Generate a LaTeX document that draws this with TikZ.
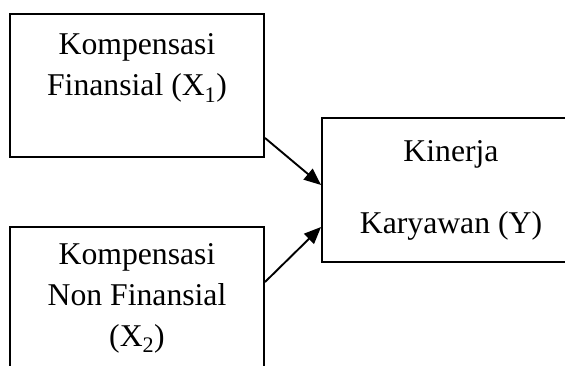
\documentclass[tikz,border=0pt]{standalone}
\usepackage{fontspec}
\setmainfont{Liberation Serif}
\usepackage{xcolor}
\definecolor{diaLine}{HTML}{000000}
\usepackage{tikz}
\usetikzlibrary{arrows.meta,positioning,calc}
\tikzset{
    varbox/.style={
        draw=diaLine,
        fill=white,
        rectangle,
        align=center,
        line width=1.9pt,
        inner sep=0pt,
        font=\fontsize{31.7}{41}\selectfont
    },
    arrow/.style={
        -{Triangle[length=17pt,width=14pt]},
        line width=1.9pt,
        color=diaLine
    }
}
\begin{document}
\begin{tikzpicture}[x=1pt,y=1pt]
    \useasboundingbox (0,0) rectangle (565,365);
    \clip (0,0) rectangle (565,365);

    % Independent variables
    \node[varbox, minimum width=254pt, minimum height=143pt] (finansial) at (137,279.5) {Kompensasi\\Finansial (X\textsubscript{1})\\\mbox{}};
    \node[varbox, minimum width=254pt, minimum height=143pt] (nonfinansial) at (137,66.5) {Kompensasi\\Non Finansial\\(X\textsubscript{2})};

    % Dependent variable
    \node[varbox, minimum width=258pt, minimum height=144pt] (kinerja) at (451,175) {Kinerja\\[31pt]Karyawan (Y)};

    % Connections
    \draw[arrow] ($(finansial.south east)+(0,20)$) -- ($(kinerja.west)+(0,5)$);
    \draw[arrow] ($(nonfinansial.north east)+(0,-56)$) -- ($(kinerja.west)+(0,-37)$);
\end{tikzpicture}
\end{document}
